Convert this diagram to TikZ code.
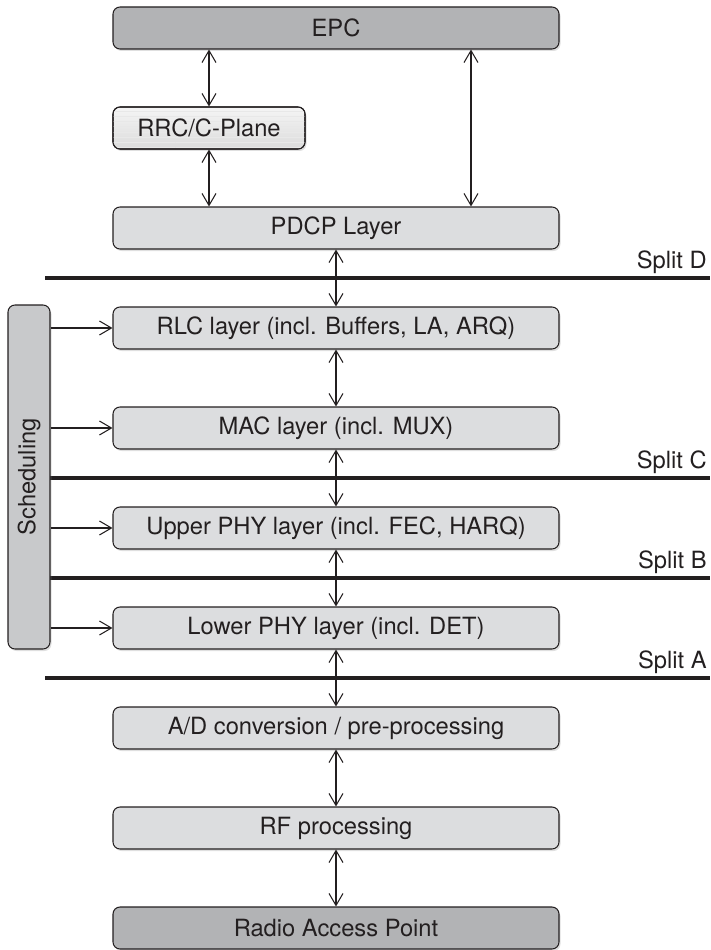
\documentclass[tikz,border=0pt]{standalone}
\usepackage{fontspec}
\setmainfont{TeX Gyre Heros}
\usetikzlibrary{arrows.meta, shadows, patterns}
\definecolor{rangray}{RGB}{220, 221, 223}
\definecolor{randark}{RGB}{178, 179, 181}
\definecolor{ransched}{RGB}{200, 201, 203}
\definecolor{ranink}{RGB}{35, 31, 32}

\begin{document}
\begin{tikzpicture}[
      layer/.style={rectangle, draw=ranink, line width=0.6pt, fill=rangray, rounded corners=4pt, minimum width=8.92cm, minimum height=0.84cm, font=\fontsize{13.5}{16}\selectfont, text=ranink, drop shadow={shadow xshift=0.03cm, shadow yshift=-0.04cm, opacity=0.25}},
      core/.style={layer, fill=randark},
      ctrl/.style={layer, minimum width=3.84cm, top color=gray!8, bottom color=gray!28, postaction={pattern=horizontal lines, pattern color=gray!18}, postaction={draw=ranink, line width=0.6pt}},
      sched/.style={layer, fill=ransched, rotate=90, minimum width=6.88cm},
      arr/.style={{Straight Barb[length=2.4mm, width=2.8mm]}-{Straight Barb[length=2.4mm, width=2.8mm]}, line width=0.6pt, ranink},
      sarr/.style={-{Straight Barb[length=2.4mm, width=2.8mm]}, line width=0.6pt, ranink},
      splitline/.style={line width=2.6pt, ranink},
      splitlabel/.style={anchor=base east, inner sep=0pt, font=\fontsize{13.5}{16}\selectfont, text=ranink}
    ]
      \useasboundingbox (0, 0) rectangle (14.2, -19);

      % functional split lines
      \draw[splitline] (0.9, -5.56) -- (14.2, -5.56);
      \draw[splitline] (0.9, -9.56) -- (14.2, -9.56);
      \draw[splitline] (0.9, -11.56) -- (14.2, -11.56);
      \draw[splitline] (0.9, -13.56) -- (14.2, -13.56);
      \node[splitlabel] (sD) at (14.14, -5.36) {Split D};
      \node[splitlabel] (sC) at (14.14, -9.36) {Split C};
      \node[splitlabel] (sB) at (14.14, -11.36) {Split B};
      \node[splitlabel] (sA) at (14.14, -13.36) {Split A};

      \node[core] (E) at (6.72, -0.56) {EPC};
      \node[ctrl] (C) at (4.18, -2.56) {RRC/C-Plane};
      \node[layer] (P) at (6.72, -4.56) {PDCP Layer};
      \node[layer] (R) at (6.72, -6.56) {RLC layer (incl. Buffers, LA, ARQ)};
      \node[layer] (M) at (6.72, -8.56) {MAC layer (incl. MUX)};
      \node[layer] (U) at (6.72, -10.56) {Upper PHY layer (incl. FEC, HARQ)};
      \node[layer] (L) at (6.72, -12.56) {Lower PHY layer (incl. DET)};
      \node[layer] (D) at (6.72, -14.56) {A/D conversion / pre-processing};
      \node[layer] (F) at (6.72, -16.56) {RF processing};
      \node[core] (A) at (6.72, -18.56) {Radio Access Point};
      \node[sched] (S) at (0.58, -9.54) {Scheduling};

      \draw[arr] (E.south -| C.north) -- (C.north);
      \draw[arr] (C.south) -- (C.south |- P.north);
      \draw[arr] ([xshift=2.7cm]E.south) -- ([xshift=2.7cm]P.north);
      \draw[arr] (P) -- (R);
      \draw[arr] (R) -- (M);
      \draw[arr] (M) -- (U);
      \draw[arr] (U) -- (L);
      \draw[arr] (L) -- (D);
      \draw[arr] (D) -- (F);
      \draw[arr] (F) -- (A);

      \draw[sarr] (S.south |- R.west) -- (R.west);
      \draw[sarr] (S.south |- M.west) -- (M.west);
      \draw[sarr] (S.south |- U.west) -- (U.west);
      \draw[sarr] (S.south |- L.west) -- (L.west);
    \end{tikzpicture}
\end{document}
